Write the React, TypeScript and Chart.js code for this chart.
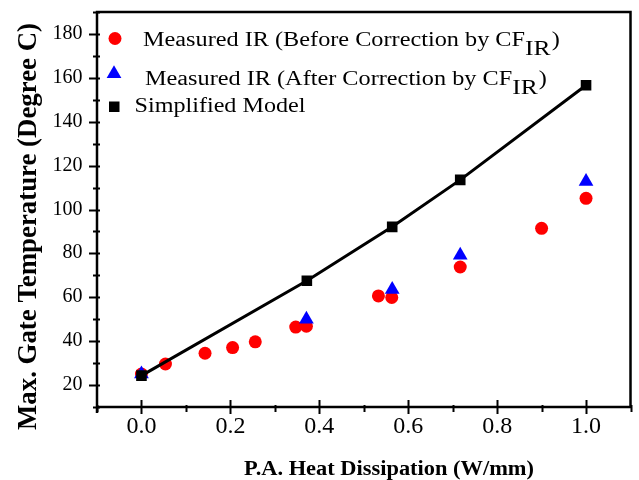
import React, { useEffect, useRef } from 'react';
import { Chart, registerables } from 'chart.js';

Chart.register(...registerables);

// ---- data ----
const modelX = [0, 0.372, 0.564, 0.717, 1.0];
const modelY = [24.3, 67.5, 92.1, 113.5, 156.6];

const beforeX = [0, 0.054, 0.143, 0.205, 0.256, 0.347, 0.371, 0.533, 0.563, 0.717, 0.9, 1.0];
const beforeY = [25, 29.6, 34.5, 37.1, 39.7, 46.4, 46.8, 60.6, 59.9, 73.8, 91.4, 105.1];

const afterX = [0, 0.371, 0.564, 0.717, 1.0];
const afterY = [25, 50, 63.6, 79.2, 112.8];

const xTickLabels = ['0.0', '0.2', '0.4', '0.6', '0.8', '1.0'];
const yTickLabels = ['20', '40', '60', '80', '100', '120', '140', '160', '180'];

const xTitle = 'P.A. Heat Dissipation (W/mm)';
const yTitle = 'Max. Gate Temperature (Degree C)';
const legendBefore = ['Measured IR (Before Correction by CF', 'IR', ')'];
const legendAfter = ['Measured IR (After Correction by CF', 'IR', ')'];
const legendModel = 'Simplified Model';

const FONT = "'Liberation Serif', 'Times New Roman', serif";

const toPoints = (xs: number[], ys: number[]) => xs.map((x, i) => ({ x, y: ys[i] }));

function drawStretched(ctx: CanvasRenderingContext2D, text: string, x: number, y: number, font: string, targetWidth: number, align: 'left' | 'center') {
  ctx.save();
  ctx.font = font;
  const w = ctx.measureText(text).width;
  const sx = targetWidth / w;
  ctx.translate(x, y);
  ctx.scale(sx, 1);
  ctx.textAlign = align;
  ctx.textBaseline = 'alphabetic';
  ctx.fillText(text, 0, 0);
  ctx.restore();
}

function drawLegendLine(ctx: CanvasRenderingContext2D, parts: string[], x: number, baseline: number, sx: number) {
  ctx.save();
  ctx.translate(x, baseline);
  ctx.scale(sx, 1);
  ctx.textAlign = 'left';
  ctx.textBaseline = 'alphabetic';
  ctx.font = `20px ${FONT}`;
  ctx.fillText(parts[0], 0, 0);
  let cx = ctx.measureText(parts[0]).width;
  ctx.font = `21px ${FONT}`;
  ctx.fillText(parts[1], cx, 9);
  cx += ctx.measureText(parts[1]).width + 1;
  ctx.font = `20px ${FONT}`;
  ctx.fillText(parts[2], cx, 0);
  ctx.restore();
}

const decorPlugin = {
  id: 'decor',
  afterDraw(chart: any) {
    const ctx: CanvasRenderingContext2D = chart.ctx;
    const { left, right, top, bottom } = chart.chartArea;
    ctx.save();
    ctx.fillStyle = '#000';
    ctx.strokeStyle = '#000';

    // frame
    ctx.lineWidth = 2.5;
    ctx.strokeRect(left, top, right - left, bottom - top);
    ctx.beginPath();
    ctx.moveTo(left, bottom);
    ctx.lineTo(left, bottom + 6);
    ctx.stroke();

    // ticks and tick labels
    ctx.lineWidth = 2;
    const xs = chart.scales.x;
    xs.ticks.forEach((t: any) => {
      const px = Math.round(xs.getPixelForValue(t.value)) + 0.5;
      const major = t.label !== '';
      ctx.beginPath();
      ctx.moveTo(px, bottom + (major ? 7 : 5));
      ctx.lineTo(px, bottom - (major ? 7 : 2));
      ctx.stroke();
      if (major) {
        ctx.font = `24px ${FONT}`;
        ctx.textAlign = 'center';
        ctx.textBaseline = 'alphabetic';
        ctx.fillText(t.label, xs.getPixelForValue(t.value), 433);
      }
    });
    const ys = chart.scales.y;
    ys.ticks.forEach((t: any) => {
      const py = Math.round(ys.getPixelForValue(t.value)) + 0.5;
      const major = t.label !== '';
      ctx.beginPath();
      ctx.moveTo(left - (major ? 8 : 4), py);
      ctx.lineTo(left + 3, py);
      ctx.stroke();
      if (major) {
        ctx.font = `20px ${FONT}`;
        ctx.textAlign = 'right';
        ctx.textBaseline = 'alphabetic';
        ctx.fillText(t.label, 82.5, ys.getPixelForValue(t.value) + 5);
      }
    });

    // axis titles
    drawStretched(ctx, xTitle, 389, 475, `bold 20px ${FONT}`, 290, 'center');
    ctx.save();
    ctx.translate(35.5, 226.5);
    ctx.rotate(-Math.PI / 2);
    ctx.font = `bold 26.5px ${FONT}`;
    const yw = ctx.measureText(yTitle).width;
    ctx.scale(407 / yw, 1);
    ctx.textAlign = 'center';
    ctx.textBaseline = 'alphabetic';
    ctx.fillText(yTitle, 0, 0);
    ctx.restore();

    // legend markers
    ctx.fillStyle = '#ff0000';
    ctx.beginPath();
    ctx.arc(115, 38.5, 6.5, 0, Math.PI * 2);
    ctx.fill();
    ctx.fillStyle = '#0000ff';
    const tr = 8.5, tcx = 114, tcy = 73.8;
    ctx.beginPath();
    ctx.moveTo(tcx, tcy - tr);
    ctx.lineTo(tcx + tr * Math.sin(Math.PI / 3), tcy + tr / 2);
    ctx.lineTo(tcx - tr * Math.sin(Math.PI / 3), tcy + tr / 2);
    ctx.closePath();
    ctx.fill();
    ctx.fillStyle = '#000';
    ctx.fillRect(109, 101.5, 10.5, 10.5);

    // legend text
    ctx.fillStyle = '#000';
    ctx.font = `20px ${FONT}`;
    const w1 = ctx.measureText(legendBefore[0]).width;
    const sx = 382 / w1;
    drawLegendLine(ctx, legendBefore, 143, 46, sx);
    drawLegendLine(ctx, legendAfter, 145, 85, sx);
    drawStretched(ctx, legendModel, 134.5, 111.5, `20px ${FONT}`, 171, 'left');

    ctx.restore();
  },
};

export default function App() {
  const ref = useRef<HTMLCanvasElement | null>(null);

  useEffect(() => {
    if (!ref.current) return;
    const chart = new Chart(ref.current, {
      type: 'scatter',
      data: {
        datasets: [
          {
            label: legendModel,
            data: toPoints(modelX, modelY),
            showLine: true,
            borderColor: '#000',
            borderWidth: 3,
            backgroundColor: '#000',
            pointStyle: 'rect',
            pointRadius: 7.5,
            pointBorderWidth: 0,
            pointBackgroundColor: '#000',
            tension: 0,
            order: 0,
          },
          {
            label: 'Measured IR (After Correction by CFIR)',
            data: toPoints(afterX, afterY),
            pointStyle: 'triangle',
            pointRadius: 8.5,
            pointBorderWidth: 0,
            pointBackgroundColor: '#0000ff',
            backgroundColor: '#0000ff',
            borderColor: '#0000ff',
            order: 1,
          },
          {
            label: 'Measured IR (Before Correction by CFIR)',
            data: toPoints(beforeX, beforeY),
            pointStyle: 'circle',
            pointRadius: 6.5,
            pointBorderWidth: 0,
            pointBackgroundColor: '#ff0000',
            backgroundColor: '#ff0000',
            borderColor: '#ff0000',
            order: 2,
          },
        ],
      },
      options: {
        responsive: false,
        animation: false,
        events: [],
        layout: { padding: { top: 12, right: 7, left: 0, bottom: 0 } },
        plugins: { legend: { display: false }, tooltip: { enabled: false } },
        scales: {
          x: {
            type: 'linear',
            min: -0.1,
            max: 1.1,
            grid: { display: false },
            border: { display: false },
            ticks: {
              display: false,
              stepSize: 0.1,
              autoSkip: false,
              maxRotation: 0,
              callback: (v: any) => {
                const s = Number(v).toFixed(1);
                return xTickLabels.includes(s) ? s : '';
              },
            },
            afterFit: (s: any) => {
              s.height = 73;
            },
          },
          y: {
            type: 'linear',
            min: 10,
            max: 190,
            grid: { display: false },
            border: { display: false },
            ticks: {
              display: false,
              stepSize: 10,
              autoSkip: false,
              callback: (v: any) => {
                const s = String(Math.round(Number(v)));
                return yTickLabels.includes(s) ? s : '';
              },
            },
            afterFit: (s: any) => {
              s.width = 97;
            },
          },
        },
      },
      plugins: [decorPlugin],
    } as any);
    return () => chart.destroy();
  }, []);

  return (
    <div style={{ position: 'fixed', left: 0, top: 0, width: 639, height: 480, background: '#fff' }}>
      <canvas ref={ref} width={639} height={480} style={{ width: 639, height: 480, display: 'block' }} />
    </div>
  );
}
